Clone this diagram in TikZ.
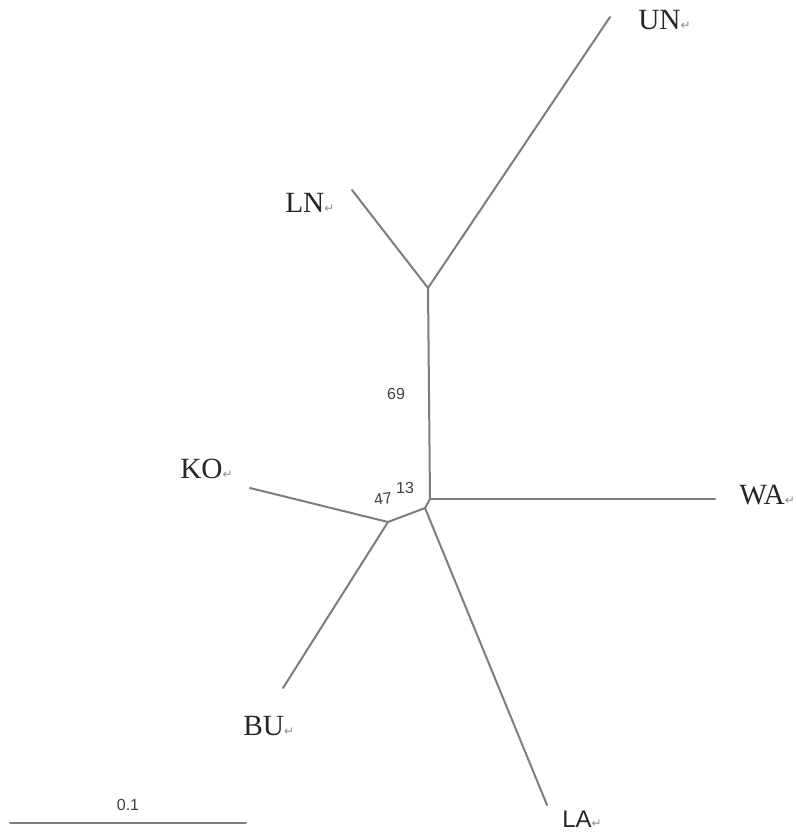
\documentclass[tikz,border=0pt]{standalone}
\usepackage{fontspec}
\setmainfont{Liberation Serif}
\newfontfamily\lsans{Liberation Sans}
\newfontfamily\symf{DejaVu Sans}
\definecolor{branch}{RGB}{125,125,125}
\definecolor{retc}{RGB}{140,140,140}
\newcommand\retmark{{\symf\fontsize{9}{9}\selectfont\color{retc}↵}}
\begin{document}
\begin{tikzpicture}[x=0.75pt,y=-0.75pt,
  br/.style={draw=branch,line width=1.5pt,line cap=round,line join=round},
  taxon/.style={anchor=base west,inner sep=0pt,font=\fontsize{22}{22}\selectfont,text=black!85},
  boot/.style={inner sep=0pt,font=\lsans\fontsize{12}{12}\selectfont,text=black!75}]
\useasboundingbox (0,0) rectangle (796,832);
% internal nodes
\coordinate (A) at (428,288);
\coordinate (B) at (430,499);
\coordinate (C) at (425,508);
\coordinate (D) at (388,522);
% tips
\coordinate (un) at (610,17);
\coordinate (ln) at (352,190);
\coordinate (wa) at (715,499);
\coordinate (la) at (547,805);
\coordinate (ko) at (250,488);
\coordinate (bu) at (283,688);
% branches
\draw[br] (A) -- (un);
\draw[br] (A) -- (ln);
\draw[br] (A) -- (B);
\draw[br] (B) -- (wa);
\draw[br] (B) -- (C);
\draw[br] (C) -- (la);
\draw[br] (C) -- (D);
\draw[br] (D) -- (ko);
\draw[br] (D) -- (bu);
% labels
\node[taxon] (tUN) at (638,29) {UN\retmark};
\node[taxon] (tLN) at (285,212) {LN\retmark};
\node[taxon] (tKO) at (180,478) {KO\retmark};
\node[taxon] (tWA) at (739,504) {WA\retmark};
\node[taxon] (tBU) at (243,735) {BU\retmark};
\node[taxon,font=\lsans\fontsize{18}{18}\selectfont] (tLA) at (562,827) {LA\retmark};
% bootstrap values
\node[boot] (b69) at (396,394) {69};
\node[boot] (b13) at (405,488) {13};
\node[boot,rotate=8] (b47) at (383,499) {47};
% scale bar
\coordinate (s1) at (10,823);
\coordinate (s2) at (246,823);
\draw[br] (s1) -- (s2);
\node[boot] (sl) at (128,805) {0.1};
\end{tikzpicture}
\end{document}
